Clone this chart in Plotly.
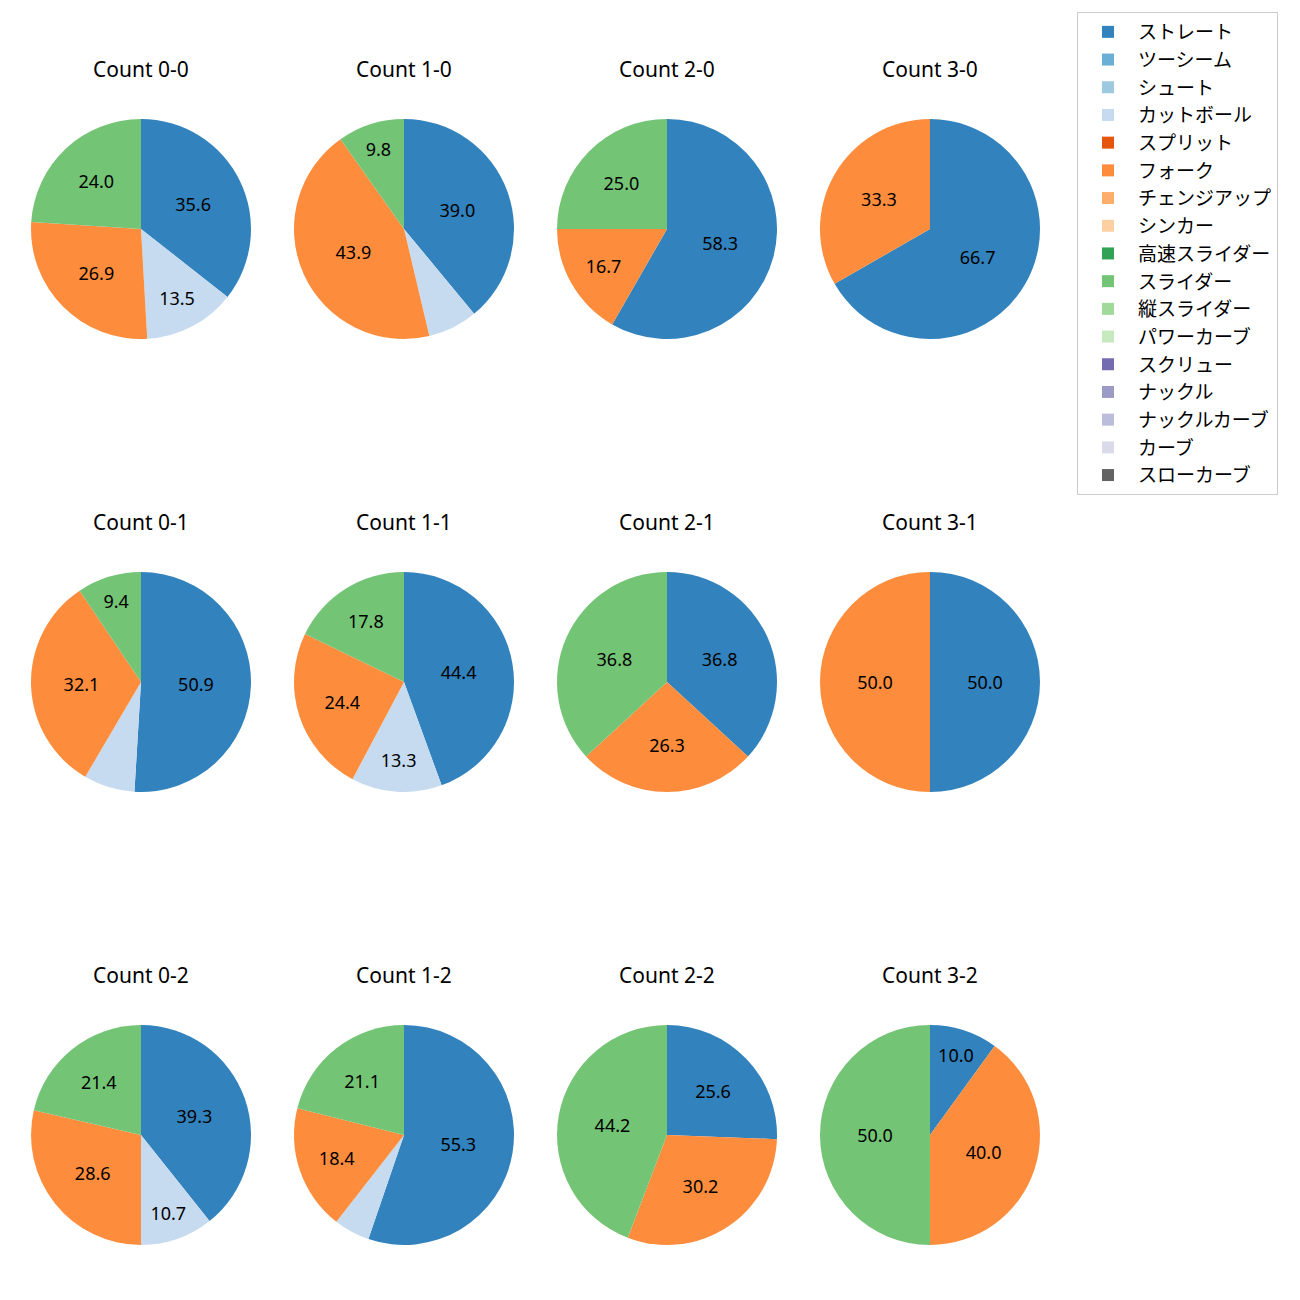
import plotly.graph_objects as go

pitch_types = ["ストレート", "ツーシーム", "シュート", "カットボール", "スプリット", "フォーク",
               "チェンジアップ", "シンカー", "高速スライダー", "スライダー", "縦スライダー",
               "パワーカーブ", "スクリュー", "ナックル", "ナックルカーブ", "カーブ", "スローカーブ"]
colors = ["#3182bd", "#6baed6", "#9ecae1", "#c6dbef", "#e6550d", "#fd8d3c", "#fdae6b", "#fdd0a2",
          "#31a354", "#74c476", "#a1d99b", "#c7e9c0", "#756bb1", "#9e9ac8", "#bcbddc", "#dadaeb",
          "#636363"]

counts = ["0-0", "1-0", "2-0", "3-0",
          "0-1", "1-1", "2-1", "3-1",
          "0-2", "1-2", "2-2", "3-2"]

# percentages: ストレート, カットボール, フォーク, スライダー
straight = [35.6, 39.0, 58.3, 66.7, 50.9, 44.4, 36.8, 50.0, 39.3, 55.3, 25.6, 10.0]
cutball  = [13.5, 7.3, 0.0, 0.0, 7.5, 13.3, 0.0, 0.0, 10.7, 5.3, 0.0, 0.0]
fork     = [26.9, 43.9, 16.7, 33.3, 32.1, 24.4, 26.3, 50.0, 28.6, 18.4, 30.2, 40.0]
slider   = [24.0, 9.8, 25.0, 0.0, 9.4, 17.8, 36.8, 0.0, 21.4, 21.1, 44.2, 50.0]

W = H = 1300
OFF = 8  # page body margin
col_cx = [141, 404, 667, 930]
row_cy = [229, 682, 1135]
R = 110
title_dy = 160
FONT = "Noto Sans, Noto Sans CJK JP"
JFONT = "Noto Sans CJK JP"

fig = go.Figure()
annotations = []
for i, cnt in enumerate(counts):
    vals = [0.0] * len(pitch_types)
    vals[pitch_types.index("ストレート")] = straight[i]
    vals[pitch_types.index("カットボール")] = cutball[i]
    vals[pitch_types.index("フォーク")] = fork[i]
    vals[pitch_types.index("スライダー")] = slider[i]
    texts = [f"{v:.1f}" if v >= 8 else "" for v in vals]
    r, c = divmod(i, 4)
    cx, cy = col_cx[c] - OFF, row_cy[r] - OFF
    fig.add_trace(go.Pie(
        labels=pitch_types, values=vals, text=texts,
        textinfo="text", texttemplate="%{text}",
        textposition="inside", insidetextorientation="horizontal",
        textfont=dict(family=FONT, size=18, color="black"),
        marker=dict(colors=colors, line=dict(width=0)),
        sort=False, direction="clockwise", rotation=0,
        showlegend=(i == 0), hoverinfo="label+percent",
        domain=dict(x=[(cx - R) / W, (cx + R) / W], y=[1 - (cy + R) / H, 1 - (cy - R) / H]),
    ))
    annotations.append(dict(
        text=f"Count {cnt}", x=cx / W, y=1 - (cy - title_dy) / H,
        xref="paper", yref="paper", showarrow=False,
        font=dict(family=FONT, size=21, color="black"),
        xanchor="center", yanchor="middle",
    ))

fig.update_layout(
    width=W, height=H,
    margin=dict(l=0, r=0, t=0, b=0),
    paper_bgcolor="white", plot_bgcolor="white",
    font=dict(family=FONT, color="black"),
    annotations=annotations,
    legend=dict(
        x=(1077 - OFF) / W, y=1 - (12 - OFF) / H, xanchor="left", yanchor="top",
        bordercolor="#cccccc", borderwidth=1, bgcolor="white",
        font=dict(family=JFONT, size=19, color="black"),
        traceorder="normal", itemwidth=50,
    ),
)

fig.write_html("out.html")
